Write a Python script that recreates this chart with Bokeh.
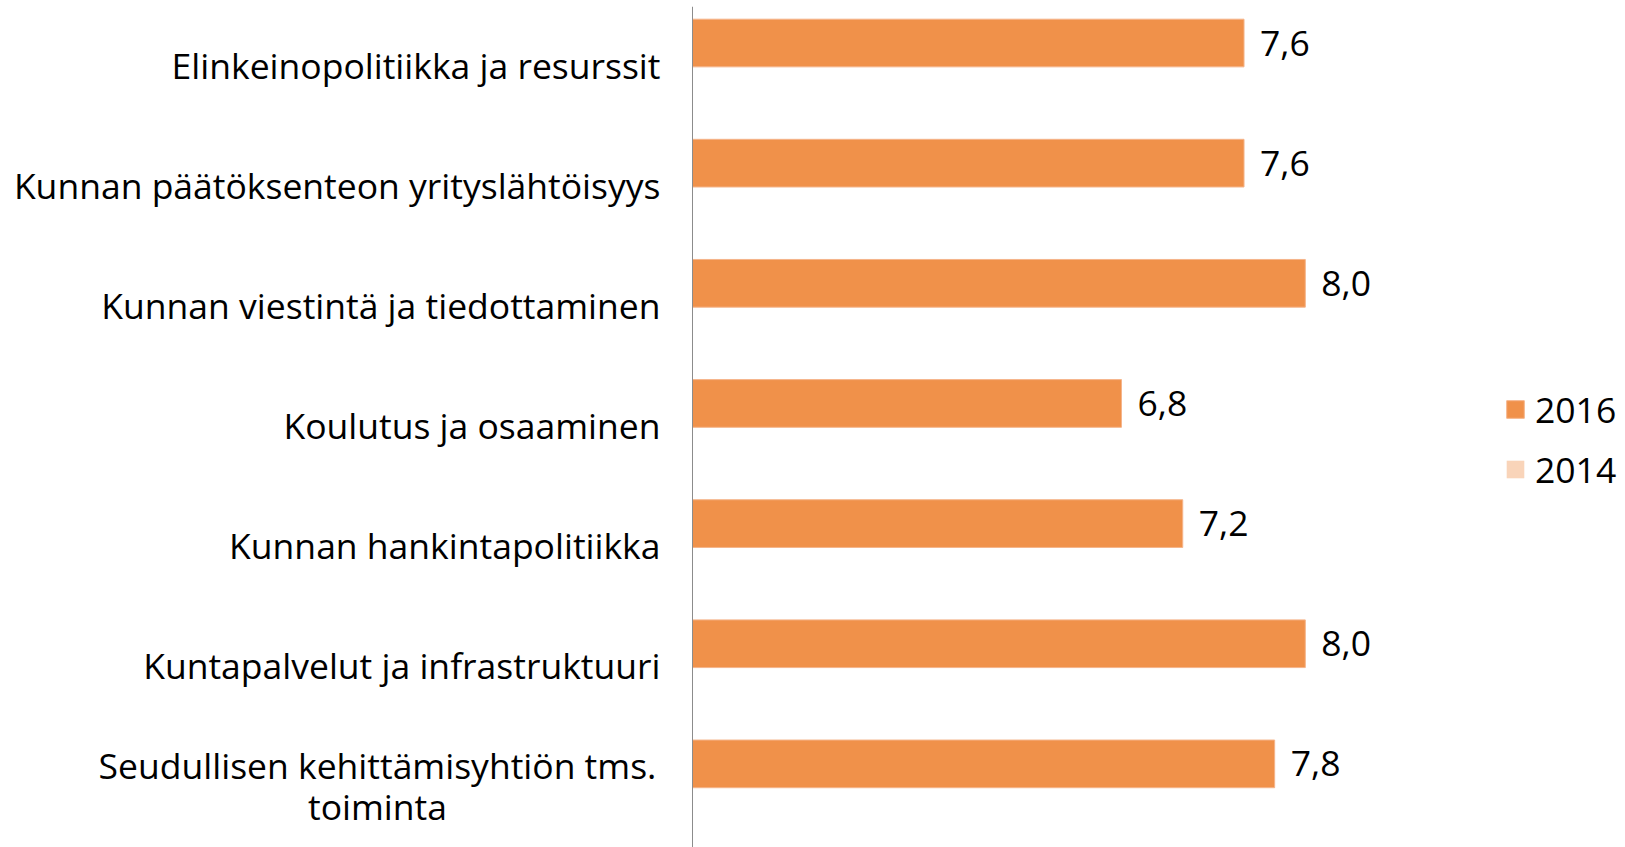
from bokeh.plotting import figure
from bokeh.models import FactorRange, ColumnDataSource, LabelSet, Legend, LegendItem, Range1d, Span
from bokeh.transform import dodge
from bokeh.core.properties import value
from bokeh.embed import file_html
from bokeh.resources import INLINE

categories = [
    "Elinkeinopolitiikka ja resurssit",
    "Kunnan päätöksenteon yrityslähtöisyys",
    "Kunnan viestintä ja tiedottaminen",
    "Koulutus ja osaaminen",
    "Kunnan hankintapolitiikka",
    "Kuntapalvelut ja infrastruktuuri",
    "Seudullisen kehittämisyhtiön tms.\ntoiminta",
]
values_2016 = [7.6, 7.6, 8.0, 6.8, 7.2, 8.0, 7.8]
values_2014 = [float("nan")] * 7
series_names = ["2016", "2014"]

FONT = "Open Sans"
FS = "35.5px"
C2016 = "#F0914A"
C2014 = "#F9D4B9"

W, H_PX = 1625, 847
AXIS_PX = 692          # pixel position of the value axis (x = 4)
PX_PER_UNIT = 153.2
x_base = 4
x_lo = x_base - AXIS_PX / PX_PER_UNIT
x_hi = x_base + (W - AXIS_PX) / PX_PER_UNIT

p = figure(
    width=W, height=H_PX,
    y_range=FactorRange(factors=list(reversed(categories))),
    x_range=Range1d(x_lo, x_hi),
    x_axis_location=None, y_axis_location=None,
    output_backend="svg", toolbar_location=None,
    min_border_left=0, min_border_right=0,
    min_border_top=6, min_border_bottom=0,
)
p.outline_line_color = None
p.grid.visible = False
p.y_range.range_padding = 0

src = ColumnDataSource(dict(
    cat=categories,
    v16=values_2016,
    v14=values_2014,
    base=[x_base] * len(categories),
    lbl=[f"{v:.1f}".replace(".", ",") for v in values_2016],
))

OFF = 0.196
BH = 0.397
r16 = p.hbar(y=dodge("cat", OFF, range=p.y_range), left="base", right="v16", height=BH,
             source=src, fill_color=C2016, line_color="#F5B48A", line_width=1)
r14 = p.hbar(y=dodge("cat", -OFF, range=p.y_range), left="base", right="v14", height=BH,
             source=src, fill_color=C2014, line_color=None)

# value axis line
p.add_layout(Span(location=x_base, dimension="height", line_color="#8C8C8C", line_width=1))

# value labels
p.add_layout(LabelSet(x="v16", y=dodge("cat", OFF, range=p.y_range), text="lbl", source=src,
                      x_offset=16, text_align="left", text_baseline="middle",
                      text_font=value(FONT), text_font_size=FS, text_color="#000000"))

# category labels: single-line ones right-aligned; multi-line ones split into
# centred lines
LINE_PX = 41.5
s_cat, s_txt, s_yoff = [], [], []
m_cat, m_txt, m_yoff = [], [], []
for c in categories:
    lines = c.split("\n")
    n = len(lines)
    for i, ln in enumerate(lines):
        yo = 2 + ((n - 1) / 2 - i) * LINE_PX
        if n == 1:
            s_cat.append(c); s_txt.append(ln); s_yoff.append(yo)
        else:
            m_cat.append(c); m_txt.append(ln); m_yoff.append(yo)

src_s = ColumnDataSource(dict(cat=s_cat, txt=s_txt, yoff=s_yoff, x=[x_base] * len(s_cat)))
src_m = ColumnDataSource(dict(cat=m_cat, txt=m_txt, yoff=m_yoff, x=[x_base] * len(m_cat)))
p.add_layout(LabelSet(x="x", y="cat", text="txt", source=src_s,
                      x_offset=-32, y_offset="yoff", text_align="right", text_baseline="middle",
                      text_font=value(FONT), text_font_size=FS, text_color="#000000"))
p.add_layout(LabelSet(x="x", y="cat", text="txt", source=src_m,
                      x_offset=-315, y_offset="yoff", text_align="center", text_baseline="middle",
                      text_font=value(FONT), text_font_size=FS, text_color="#000000"))

legend = Legend(items=[LegendItem(label=series_names[0], renderers=[r16]),
                       LegendItem(label=series_names[1], renderers=[r14])],
                location=(1504, 354), orientation="vertical",
                glyph_width=22, glyph_height=22, label_standoff=9,
                spacing=12, padding=0, margin=0,
                label_text_font=FONT, label_text_font_size=FS, label_text_color="#000000",
                border_line_color=None, background_fill_alpha=0)
p.add_layout(legend)

open("out.html", "w").write(file_html(p, INLINE))
